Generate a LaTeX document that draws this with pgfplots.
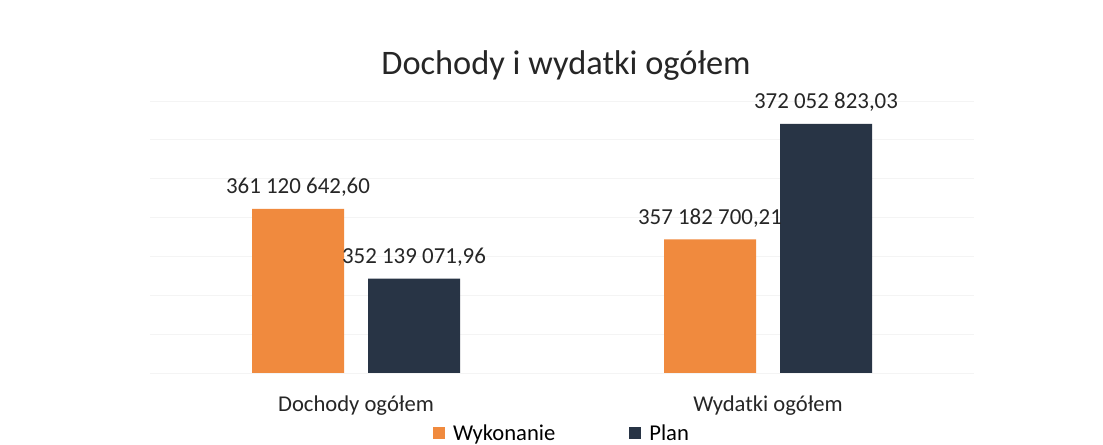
\documentclass[border=0pt]{standalone}
\usepackage{fontspec}
\setmainfont{Carlito}
\usepackage{pgfplots}
\pgfplotsset{compat=1.18}

\definecolor{wyk}{HTML}{F08A3E}
\definecolor{plan}{HTML}{283445}
\definecolor{gridc}{HTML}{F4F4F4}

\begin{document}
\begin{tikzpicture}[x=1bp,y=1bp]
\path[use as bounding box, fill=white] (0,0) rectangle (1103,445);
\begin{axis}[
  at={(150bp,72bp)}, anchor=south west,
  scale only axis, width=824bp, height=272bp,
  ybar=24bp, bar width=92bp,
  xmin=-0.5, xmax=1.5,
  ymin=340000000, ymax=375000000,
  scaled y ticks=false,
  xtick={0,1}, xticklabels={Dochody ogółem, Wydatki ogółem},
  xtick style={draw=none},
  ytick={340000000,345000000,350000000,355000000,360000000,365000000,370000000,375000000},
  yticklabels={},
  ytick style={draw=none},
  ymajorgrids, grid style={gridc, line width=0.8bp},
  axis line style={draw=none},
  x axis line style={draw=gridc},
  xticklabel style={font=\fontsize{22.7}{26}\selectfont, text=black!85, anchor=base, yshift=-34bp},
  nodes near coords, point meta=explicit symbolic,
  every node near coord/.append style={font=\fontsize{23}{26}\selectfont, text=black!85, anchor=base, yshift=15bp},
  legend style={at={(0.50,-0.2206)}, anchor=center, draw=none, fill=none,
    legend columns=2, font=\fontsize{22.7}{26}\selectfont,
    /tikz/every odd column/.append style={column sep=6bp},
    /tikz/every even column/.append style={column sep=72bp}},
  legend image code/.code={\fill[#1] (0bp,-6bp) rectangle (12bp,6bp);},
]
\addplot[fill=wyk, draw=none] coordinates {(0,361120642.60)[361 120 642,60] (1,357182700.21)[357 182 700,21]};
\addlegendentry{Wykonanie}
\addplot[fill=plan, draw=none] coordinates {(0,352139071.96)[352 139 071,96] (1,372052823.03)[372 052 823,03]};
\addlegendentry{Plan}
\end{axis}
\node[font=\fontsize{34.5}{38}\selectfont, text=black!85, anchor=base] at (566bp,370bp) {Dochody i wydatki ogółem};
\end{tikzpicture}
\end{document}
